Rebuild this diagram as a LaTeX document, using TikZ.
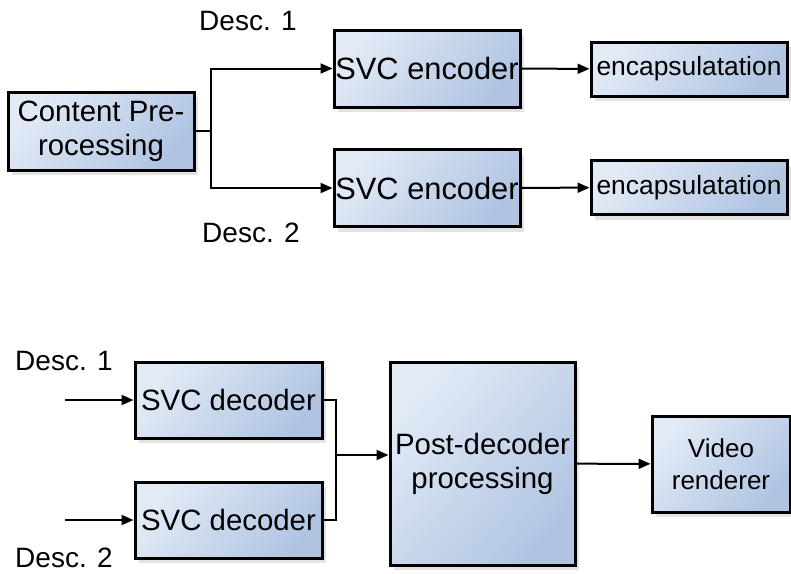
\documentclass[tikz,border=0pt]{standalone}
\usepackage{fontspec}
\setmainfont{Liberation Sans}
\usetikzlibrary{arrows.meta,shadows}
\definecolor{boxlight}{HTML}{E2EAF6}
\definecolor{boxdark}{HTML}{B0C4E2}
\begin{document}
\begin{tikzpicture}[x=0.5pt, y=-0.5pt,
    box/.style={rectangle, draw, line width=1.5pt, inner sep=0pt, align=center,
        top color=boxlight, bottom color=boxdark, shading angle=50,
        drop shadow={shadow xshift=2pt, shadow yshift=-2.5pt, fill=black!22},
        font=\fontsize{14.7}{17}\selectfont},
    arr/.style={-{Triangle[length=6pt,width=5pt]}, line width=1pt},
    lbl/.style={inner sep=0pt, font=\fontsize{14}{17}\selectfont}]
    \useasboundingbox (0,0) rectangle (791,573);

    % Sender side
    \node[box, minimum width=93pt, minimum height=39pt] (pre) at (101,131) {Content Pre-\\rocessing};
    \node[box, minimum width=93pt, minimum height=38.5pt, font=\fontsize{15.4}{17}\selectfont] (enc1) at (427,68.5) {SVC encoder};
    \node[box, minimum width=93pt, minimum height=38.5pt, font=\fontsize{15.4}{17}\selectfont] (enc2) at (427,188) {SVC encoder};
    \node[box, minimum width=98pt, minimum height=27pt, font=\fontsize{13.2}{15}\selectfont] (cap1) at (689,69) {encapsulatation};
    \node[box, minimum width=98pt, minimum height=27pt, font=\fontsize{13.2}{15}\selectfont] (cap2) at (689,187.5) {encapsulatation};
    \node[lbl] (d1top) at (248,21.5) {Desc. 1};
    \node[lbl] (d2top) at (251,232.5) {Desc. 2};

    \coordinate (split) at (211,131);
    \draw[line width=1pt] (pre.east) -- (split);
    \draw[arr] (split) |- (enc1.west);
    \draw[arr] (split) |- (enc2.west);
    \draw[arr] (enc1) -- (cap1);
    \draw[arr] (enc2) -- (cap2);

    % Receiver side
    \node[box, minimum width=93.5pt, minimum height=38pt] (dec1) at (228.5,400) {SVC decoder};
    \node[box, minimum width=93.5pt, minimum height=38pt] (dec2) at (228.5,520) {SVC decoder};
    \node[box, minimum width=92.5pt, minimum height=101.5pt] (post) at (482.5,463.5) {Post-decoder\\processing};
    \node[box, minimum width=69pt, minimum height=48pt, font=\fontsize{13}{16}\selectfont] (video) at (721,464) {Video\\renderer};
    \node[lbl] (d1bot) at (64,360.5) {Desc. 1};
    \node[lbl] (d2bot) at (64,557.5) {Desc. 2};

    \coordinate (in1) at (65,400);
    \coordinate (in2) at (65,520);
    \coordinate (merge) at (336,455);
    \draw[arr] (in1) -- (dec1.west);
    \draw[arr] (in2) -- (dec2.west);
    \draw[line width=1pt] (dec1.east) -| (merge);
    \draw[line width=1pt] (dec2.east) -| (merge);
    \draw[arr] (merge) -- (merge -| post.west);
    \draw[arr] (post) -- (video);
\end{tikzpicture}
\end{document}
